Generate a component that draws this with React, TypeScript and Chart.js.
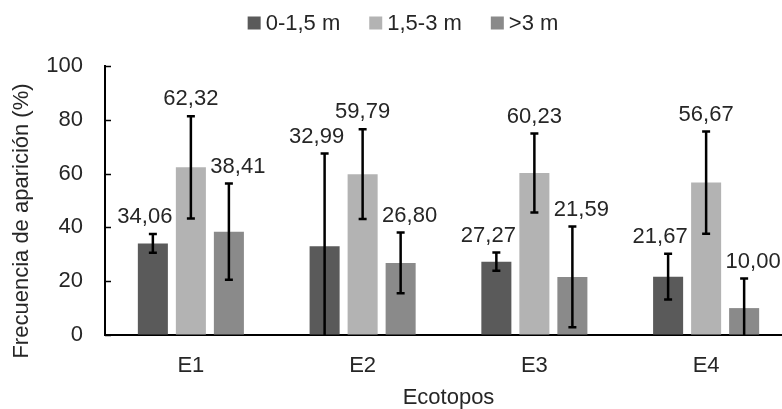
import React, { useEffect, useRef } from "react";
import { Chart, registerables } from "chart.js";

Chart.register(...registerables);

const categories = ["E1", "E2", "E3", "E4"];
const seriesLabels = ["0-1,5 m", "1,5-3 m", ">3 m"];
const seriesColors = ["#5a5a5a", "#b3b3b3", "#8a8a8a"];
const lowValues = [34.06, 32.99, 27.27, 21.67];
const midValues = [62.32, 59.79, 60.23, 56.67];
const highValues = [38.41, 26.8, 21.59, 10.0];
const lowErrors = [3.5, 34.5, 3.4, 8.5];
const midErrors = [19.0, 16.7, 14.7, 19.0];
const highErrors = [17.9, 11.3, 18.7, 11.0];
const yTicks = [0, 20, 40, 60, 80, 100];

const FONT = "'Liberation Sans', Arial, sans-serif";
const TEXT = "#262626";
const FS = 22;

const errorBarPlugin = {
  id: "errorBars",
  afterDatasetsDraw(chart: any) {
    const ctx = chart.ctx;
    const y = chart.scales.y;
    const area = chart.chartArea;
    // inward ticks on y axis
    ctx.save();
    ctx.strokeStyle = "#000";
    ctx.lineWidth = 1.5;
    yTicks.forEach((t) => {
      const py = Math.round(y.getPixelForValue(t)) + 0.5;
      ctx.beginPath();
      ctx.moveTo(area.left, py);
      ctx.lineTo(area.left + 6, py);
      ctx.stroke();
    });
    ctx.restore();

    chart.data.datasets.forEach((ds: any, i: number) => {
      const meta = chart.getDatasetMeta(i);
      meta.data.forEach((el: any, j: number) => {
        const v = ds.data[j];
        const e = ds.errors[j];
        const yt = y.getPixelForValue(v + e);
        const lowV = Math.max(v - e, 0);
        const yb = y.getPixelForValue(lowV);
        ctx.save();
        ctx.strokeStyle = "#000";
        ctx.lineWidth = 2.5;
        ctx.beginPath();
        ctx.moveTo(el.x, yt);
        ctx.lineTo(el.x, yb);
        ctx.moveTo(el.x - 4, yt);
        ctx.lineTo(el.x + 4, yt);
        if (v - e > 0) {
          ctx.moveTo(el.x - 4, yb);
          ctx.lineTo(el.x + 4, yb);
        }
        ctx.stroke();
        ctx.fillStyle = TEXT;
        ctx.font = `${FS}px ${FONT}`;
        ctx.textAlign = "center";
        ctx.textBaseline = "middle";
        ctx.fillText(v.toFixed(2).replace(".", ","), el.x + ds.labelOffset, yt - 17);
        ctx.restore();
      });
    });

    // y axis title
    ctx.save();
    ctx.fillStyle = TEXT;
    ctx.font = `${FS}px ${FONT}`;
    ctx.textAlign = "center";
    ctx.textBaseline = "middle";
    ctx.translate(22, 221);
    ctx.rotate(-Math.PI / 2);
    ctx.fillText("Frecuencia de aparición (%)", 0, 0);
    ctx.restore();

    // legend
    ctx.save();
    ctx.font = `${FS}px ${FONT}`;
    ctx.textBaseline = "middle";
    ctx.textAlign = "left";
    const box = 13;
    const gapBox = 5;
    const gapItem = 29;
    const widths = seriesLabels.map((l) => box + gapBox + ctx.measureText(l).width);
    const total = widths.reduce((a, b) => a + b, 0) + gapItem * (widths.length - 1);
    let x = 403 - total / 2;
    const cy = 23;
    seriesLabels.forEach((l, i) => {
      ctx.fillStyle = seriesColors[i];
      ctx.fillRect(x, cy - box / 2, box, box);
      ctx.fillStyle = TEXT;
      ctx.fillText(l, x + box + gapBox, cy + 1);
      x += widths[i] + gapItem;
    });
    ctx.restore();
  },
};

export default function App() {
  const ref = useRef<HTMLCanvasElement | null>(null);
  useEffect(() => {
    if (!ref.current) return;
    const chart = new Chart(ref.current, {
      type: "bar",
      data: {
        labels: categories,
        datasets: [
          { label: seriesLabels[0], data: lowValues, errors: lowErrors, labelOffset: -8, backgroundColor: seriesColors[0], borderWidth: 0 } as any,
          { label: seriesLabels[1], data: midValues, errors: midErrors, labelOffset: 0, backgroundColor: seriesColors[1], borderWidth: 0 } as any,
          { label: seriesLabels[2], data: highValues, errors: highErrors, labelOffset: 9, backgroundColor: seriesColors[2], borderWidth: 0 } as any,
        ],
      },
      options: {
        responsive: false,
        animation: false,
        categoryPercentage: 0.664,
        barPercentage: 0.79,
        layout: { padding: { top: 66, left: 14, right: 0, bottom: 0 } },
        plugins: {
          legend: { display: false },
          tooltip: { enabled: false },
        },
        scales: {
          x: {
            grid: { display: true, drawOnChartArea: false, drawTicks: false },
            border: { display: true, color: "#000", width: 2 },
            ticks: { color: TEXT, font: { size: FS, family: FONT }, padding: 18 },
            title: {
              display: true,
              text: "Ecotopos",
              color: TEXT,
              font: { size: FS, family: FONT, lineHeight: 1 },
              padding: { top: 0, bottom: 0 },
            },
            afterFit: (s: any) => {
              s.height = 74;
            },
          },
          y: {
            min: 0,
            max: 100,
            grid: { display: true, drawOnChartArea: false, drawTicks: false },
            border: { display: true, color: "#000", width: 2 },
            ticks: {
              stepSize: 20,
              color: TEXT,
              font: { size: FS, family: FONT },
              padding: 22,
            },
            afterFit: (s: any) => {
              s.width = 91;
            },
          },
        },
      },
      plugins: [errorBarPlugin],
    } as any);
    return () => chart.destroy();
  }, []);
  return (
    <div style={{ position: "fixed", left: 0, top: 0, width: 782, height: 409, overflow: "hidden", background: "#fff" }}>
      <canvas ref={ref} width={792} height={409} style={{ width: 792, height: 409, display: "block" }} />
    </div>
  );
}
